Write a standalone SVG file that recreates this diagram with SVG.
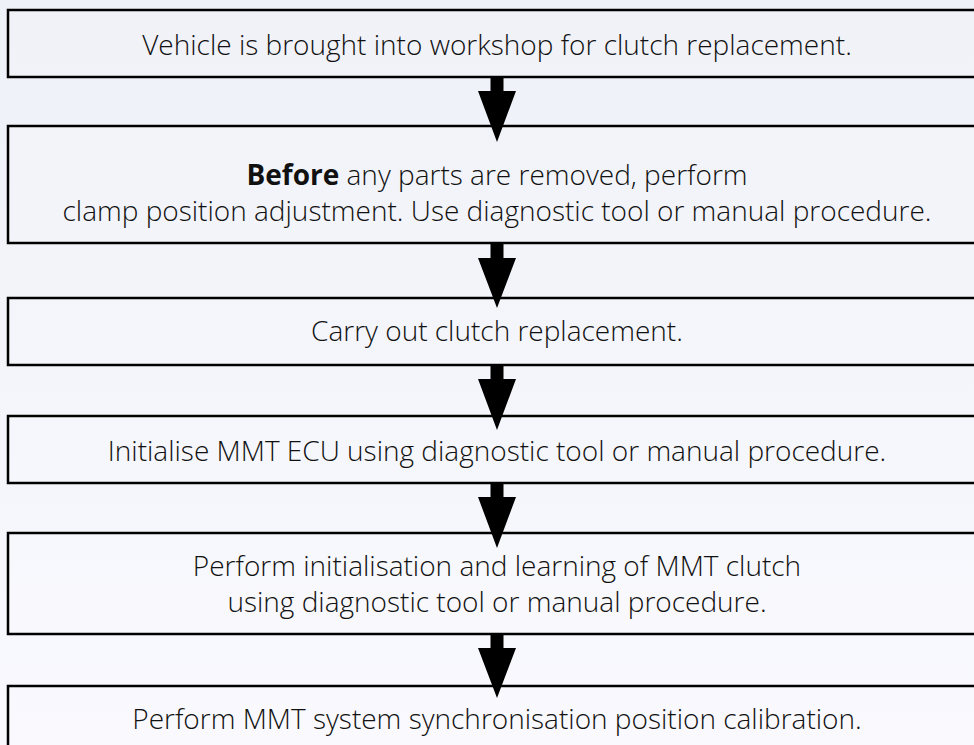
<svg xmlns="http://www.w3.org/2000/svg" width="974" height="745" viewBox="0 0 974 745">
<defs>
<linearGradient id="bg" x1="0" y1="0" x2="0" y2="1">
<stop offset="0" stop-color="#eef1f8"/>
<stop offset="1" stop-color="#f9f9fe"/>
</linearGradient>
<style>
.box{fill:#ffffff;fill-opacity:0.12;stroke:#000;stroke-width:2.5}
.t{font-family:"Open Sans","Noto Sans",sans-serif;font-size:28px;font-weight:300;fill:#111;text-anchor:middle}
.b{font-weight:bold}
.arr{fill:#000}
</style>
</defs>
<rect x="0" y="0" width="974" height="745" fill="url(#bg)"/>
<g id="n1">
<rect class="box" x="8" y="10" width="978" height="67"/>
<text class="t" x="497" y="55">Vehicle is brought into workshop for clutch replacement.</text>
</g>
<g id="n2">
<rect class="box" x="8" y="126" width="978" height="117"/>
<text class="t" x="497" y="185"><tspan class="b">Before</tspan> any parts are removed, perform</text>
<text class="t" x="497" y="221">clamp position adjustment. Use diagnostic tool or manual procedure.</text>
</g>
<g id="n3">
<rect class="box" x="8" y="298" width="978" height="67"/>
<text class="t" x="497" y="341">Carry out clutch replacement.</text>
</g>
<g id="n4">
<rect class="box" x="8" y="416" width="978" height="67"/>
<text class="t" x="497" y="461">Initialise MMT ECU using diagnostic tool or manual procedure.</text>
</g>
<g id="n5">
<rect class="box" x="8" y="533" width="978" height="101"/>
<text class="t" x="497" y="576">Perform initialisation and learning of MMT clutch</text>
<text class="t" x="497" y="612">using diagnostic tool or manual procedure.</text>
</g>
<g id="n6">
<rect class="box" x="8" y="686" width="978" height="80"/>
<text class="t" x="497" y="729">Perform MMT system synchronisation position calibration.</text>
</g>
<g id="connectors">
<polygon class="arr" points="490.5,77 503.5,77 503.5,91 516,91 497,142 478,91 490.5,91"/>
<polygon class="arr" points="490.5,243 503.5,243 503.5,258 516,258 497,308 478,258 490.5,258"/>
<polygon class="arr" points="490.5,365 503.5,365 503.5,379 516,379 497,430 478,379 490.5,379"/>
<polygon class="arr" points="490.5,483 503.5,483 503.5,497 516,497 497,548 478,497 490.5,497"/>
<polygon class="arr" points="490.5,634 503.5,634 503.5,648 516,648 497,698 478,648 490.5,648"/>
</g>
</svg>
